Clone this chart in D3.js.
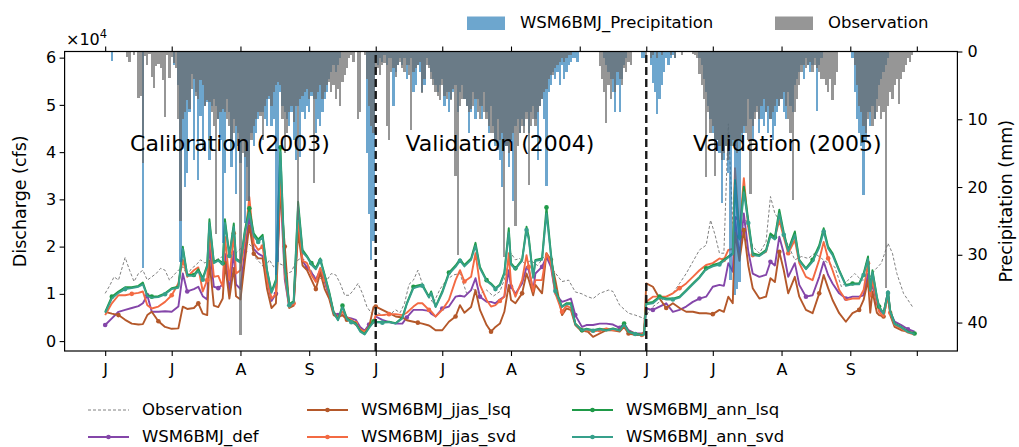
<!DOCTYPE html>
<html>
<head>
<meta charset="utf-8">
<script src="https://cdn.jsdelivr.net/npm/d3@7"></script>
<style>
  body { margin: 0; background: #fff; }
  text { font-family: "DejaVu Sans", sans-serif; fill: #000; }
</style>
</head>
<body>
<div id="chart"></div>
<script>
// ---- data (day index within each Jun-Sep season) ----
const yearOffsets = [0, 122, 244];
const tickDays = [0, 30, 61, 92, 122, 152, 183, 214, 244, 274, 305, 336, 366];
const tickLabels = ['J', 'J', 'A', 'S', 'J', 'J', 'A', 'S', 'J', 'J', 'A', 'S', ''];
const periodLabels = ['Calibration (2003)', 'Validation (2004)', 'Validation (2005)'];
const periodLabelDays = [56.3, 178, 307.6];

const modelDays2003 = [0,3,6,9,12,15,17,19,21,24,27,30,33,35,37,40,42,44,46,47,49,51,53,54,56,58,59,61,63,65,67,69,71,73,75,77,79,81,83,85,87,89,91,93,95,97,99,101,103,105,107,109,111,113,115,117,119,121];
const def2003 = [.34,.48,.62,.66,.7,.74,.8,.97,.62,.62, .63,.62,.73,1.43,1.05,1.1,1.15,.95,.88,2.05, 1.15,1.12,1.2,1.85,1.05,1.9,1.2,1.1,1.9,2.65, 1.95,1.85,1.8,1.3,.85,1.0,3.3,1.3,.72,.78, 2.5,1.7,1.55,1.45,1.3,1.5,1.25,.95,.6,.55, .55,.5,.48,.45,.3,.22,.35,.4];
const jjasLsq2003 = [.62,.58,.55,.45,.37,.35,.36,.55,.62,.42, .3,.26,.27,.73,.68,.7,.8,.58,.55,1.7, .75,.72,.9,1.65,.9,1.55,.95,.88,1.7,2.45, 1.85,1.75,1.75,1.1,.7,.8,3.2,2.0,.7,.75, 2.3,1.6,1.5,1.3,1.1,1.45,1.1,.9,.55,.5, .55,.45,.45,.35,.25,.2,.3,.72];
const jjasSvd2003 = [.55,.8,.97,.97,1.0,1.02,1.05,.76,.69,.73, .83,.97,1.22,1.72,1.36,1.5,1.56,1.05,1.29,2.35, 1.36,1.38,1.15,2.21,1.29,2.28,1.43,1.5,2.14,3.05, 2.07,1.93,2.0,1.3,.9,1.0,3.6,1.4,.72,.8, 2.6,1.7,1.65,1.4,1.25,1.55,1.3,1.0,.6,.5, .62,.5,.45,.38,.25,.2,.3,.4];
const annLsq2003 = [.62,.94,1.05,1.14,1.14,1.17,1.24,.97,.94,.95, 1.01,1.12,1.15,2.0,1.4,1.4,1.52,1.33,1.61,2.58, 1.68,1.72,1.65,2.58,1.82,2.49,1.75,1.68,2.35,2.81, 2.28,2.15,2.25,1.5,1.05,1.3,4.1,1.6,.78,.85, 2.95,1.93,1.8,1.65,1.55,1.75,1.4,1.05,.62,.45, .75,.48,.42,.38,.22,.15,.3,.42];
const annSvd2003 = [.6,.9,1.02,1.1,1.12,1.15,1.2,.95,.92,.93, .99,1.1,1.13,1.95,1.38,1.38,1.48,1.3,1.58,2.5, 1.65,1.7,1.62,2.5,1.8,2.42,1.72,1.66,2.3,2.72, 2.22,2.1,2.2,1.48,1.02,1.25,4.0,1.55,.76,.82, 2.85,1.88,1.78,1.62,1.52,1.7,1.38,1.02,.6,.44, .72,.46,.4,.36,.2,.14,.28,.4];

const modelDays2004 = [0,3,6,9,12,14,17,19,21,24,25,27,30,33,36,38,40,43,45,47,50,52,54,56,58,60,61,63,66,68,69,71,72,75,77,79,81,84,86,88,90,93,95,98,101,104,107,110,112,114,117,120,121];
const def2004 = [.52,.45,.4,.37,.37,.5,.66,.66,.66,.64, .58,.52,.69,.73,.94,.96,.94,1.08,1.33,.94, .83,.83,.8,.88,.94,1.5,1.15,1.0,1.22,1.57, 1.5,1.08,1.43,1.57,1.79,1.57,1.0,.83,.86,.9, .55,.3,.34,.34,.37,.37,.35,.28,.37,.23, .16,.16,.19];
const jjasLsq2004 = [.73,.66,.59,.52,.5,.44,.41,.39,.37,.33, .3,.23,.23,.41,.52,.76,.6,.72,1.08,.66, .34,.2,.3,.37,.62,1.19,.87,.8,1.01,1.43, 1.3,.97,1.19,1.01,1.86,1.72,1.29,.55,.69,.66, .34,.2,.23,.09,.16,.23,.23,.2,.3,.16, .13,.13,.14];
const jjasSvd2004 = [.55,.55,.57,.57,.55,.6,.73,.8,.8,.66, .63,.52,.66,.87,1.29,1.5,1.26,1.36,1.86,1.19, .87,.73,.76,.85,.94,1.86,1.22,.94,1.29,1.82, 1.57,1.05,1.29,1.29,1.86,1.65,1.01,.62,.75,.7, .37,.23,.23,.2,.23,.27,.23,.23,.34,.2, .16,.13,.2];
const annLsq2004 = [.41,.4,.41,.38,.5,.8,1.15,1.18,1.2,.94, 1.05,.73,1.05,1.45,1.6,1.73,1.61,1.75,2.08,1.57, 1.29,1.22,1.12,1.2,1.45,2.39,1.65,1.54,1.72,2.42, 2.21,1.36,1.72,1.75,2.83,1.86,1.08,.73,.8,.8, .37,.23,.26,.23,.26,.23,.27,.23,.37,.2, .16,.13,.14];
const annSvd2004 = [.4,.39,.4,.37,.48,.78,1.12,1.15,1.17,.92, 1.02,.72,1.02,1.42,1.57,1.7,1.58,1.72,2.02,1.54, 1.27,1.2,1.1,1.18,1.42,2.3,1.62,1.52,1.7,2.35, 2.15,1.34,1.7,1.72,2.7,1.82,1.06,.72,.78,.78, .36,.22,.25,.22,.25,.22,.26,.22,.35,.19, .15,.12,.14];

const modelDays2005 = [0,3,6,9,12,15,18,21,24,27,30,33,35,37,39,40,42,44,46,48,51,54,56,58,60,62,64,67,69,72,75,78,80,82,84,87,90,93,96,98,100,101,102,104,105,107,109,110,112,115,118,121];
const def2005 = [.69,.66,.73,.8,.62,.66,.73,.83,.9,.94, 1.15,1.19,1.17,1.65,1.47,2.6,1.8,2.7,1.9,1.43, 1.36,1.4,1.68,1.6,2.21,1.86,1.36,1.65,1.19,.94, .97,1.36,1.68,1.4,1.22,1.01,.9,.94,.94,.97, 1.43,.97,1.2,.8,.66,.59,1.05,.62,.41,.34, .25,.2];
const jjasLsq2005 = [1.22,1.15,.9,.7,.8,.7,.62,.62,.59,.59, .57,.66,.62,.94,.8,2.3,1.7,2.35,1.6,1.12, .9,.94,1.33,1.25,1.89,1.5,1.01,1.36,.94,.66, .59,1.01,1.4,1.12,.87,.59,.41,.59,.66,.87, 1.29,.6,1.05,.6,.55,.52,.97,.55,.3,.23, .2,.16];
const jjasSvd2005 = [.83,.94,.94,.94,1.01,1.12,1.22,1.36,1.5,1.61, 1.65,1.75,1.72,1.93,1.95,3.66,2.28,3.45,2.4,1.82, 1.82,1.89,2.25,2.2,2.56,2.2,1.86,2.14,1.65,1.36, 1.29,1.72,2.1,1.75,1.5,1.08,.87,.9,.9,1.08, 1.65,.94,1.3,.83,.62,.52,.97,.6,.34,.27, .18,.14];
const annLsq2005 = [.8,.83,.94,.9,.9,.94,1.08,1.22,1.36,1.54, 1.61,1.65,1.72,1.79,1.86,3.41,2.21,3.27,2.56,1.86, 1.82,1.93,2.28,2.2,2.78,2.3,1.93,2.32,1.72,1.54, 1.72,2.03,2.39,2.0,1.86,1.5,1.19,1.22,1.22,1.43, 1.79,1.08,1.5,.94,.73,.59,1.05,.65,.37,.3, .2,.16];
const annSvd2005 = [.78,.8,.92,.88,.88,.92,1.06,1.2,1.34,1.52, 1.58,1.62,1.7,1.77,1.84,3.3,2.15,3.15,2.5,1.82, 1.8,1.9,2.22,2.15,2.7,2.25,1.9,2.25,1.7,1.52, 1.68,1.98,2.32,1.96,1.82,1.48,1.17,1.2,1.2,1.4, 1.74,1.06,1.46,.92,.72,.58,1.02,.63,.36,.29, .19,.15];

const obsDays2003 = [0,2,4,6,9,11,13,15,17,19,21,23,25,27,29,31,33,35,37,39,41,43,45,47,50,53,56,59,62,64,66,68,70,72,74,76,78,80,82,84,86,88,90,92,94,96,98,100,102,104,106,108,110,112,114,116,118,120,121];
const obs2003 = [1.01,1.17,1.36,1.29,1.77,1.5,1.26,1.43,1.5,1.29, 1.36,1.43,1.54,1.5,1.29,1.4,1.5,1.57,1.4,1.54, 1.61,1.72,1.65,1.75,1.72,1.79,1.82,1.86,2.0,2.1, 2.0,1.75,1.65,1.54,1.72,1.57,1.65,1.61,1.43,1.47, 1.68,1.75,1.72,1.57,1.4,1.29,1.36,1.29,1.43,1.4, 1.22,.97,.97,1.08,1.22,1.01,.73,.59,.55];
const obsDays2004 = [0,3,6,9,11,13,15,17,19,21,23,26,29,32,35,38,41,44,47,50,53,56,58,61,63,65,67,70,73,77,80,84,87,90,93,95,98,101,105,107,110,114,117,121];
const obs2004 = [.62,.55,.55,.66,.6,.8,1.2,1.29,1.5,1.22, 1.01,.8,1.1,1.3,1.4,1.43,1.01,1.1,1.0,1.08, .95,1.05,1.3,1.86,1.72,1.75,1.65,1.7,1.6,1.86, 1.5,1.26,1.29,1.04,1.0,.95,.9,1.01,1.08,1.05, .76,.59,.55,.48];
const obsDays2005 = [0,3,6,9,12,15,18,21,24,27,29,31,33,35,37,39,41,43,45,48,51,54,56,58,60,62,64,67,70,73,76,79,82,85,88,91,94,97,100,103,106,109,111,113,116,119,120];
const obs2005 = [.55,.73,.83,.94,1.01,1.22,1.43,1.68,1.93,2.03, 2.56,2.25,1.86,1.86,4.6,2.5,2.2,2.3,2.56,2.0, 1.86,2.1,3.06,2.7,2.56,2.2,2.03,1.72,1.79,1.75, 1.86,1.75,1.65,1.57,1.15,1.29,1.43,1.29,1.3,1.5, 1.65,2.07,1.86,1.43,1.01,.8,.73];

// daily precipitation (mm), one value per day of each season
const precipObs2003 = [0,0,0,0,0,0,0,0,0,0, 0.8,1.5,0,0.5,0,6.9,6.5,16.5,0.6,2, 0.4,3.7,5.4,2.2,1.8,2.4,4.2,9.6,0.5,3.9, 0.8,1.7,2.5,10,25,10,9,7.1,8.5,5.5, 4,6.5,7,4.2,5,8,7.1,7.5,9,11, 27,10,9,8.5,9,10,11,13,12,11, 14,41.8,15,15.5,22,22,13,11,10,9, 9.5,13.1,8,7,6.5,8,6,5,4.5,5, 10,15,12,9,8,10.4,8,24.8,7,6.5, 6,5.5,7,6,19.4,7,6,5,7,6, 5,4.5,6,5,7,5.5,8,4.5,3.5,2.5, 1,0.5,1.5,0,10,9,0,0.5,4,8, 11,12];
const precipModel2003 = [0,0,0,1.4,0,0,0,0,0,0, 0,0,0,0,0,0,0,32,0,0, 0,0,0,0,0,0,0,0,0,0, 0,2,0,5,31,14,20,17.9,9,3.3, 16,6,19,9.5,14.5,8,7.5,16,8,7, 8,10,13,28.3,18,7,9,17,10,21, 12,16.5,13,25.3,17,22,12,14,12,10, 9,9,10,11,7,11,10,33,31,6, 8,9,10,11,9,13,16,8,15.5,9, 10,8,9,6.5,7,12,10,11,9,7, 6,4,3,2,3,2,1,0,0,0, 0,0,0,0,0,0,0,0,15,24, 30.8,28];
const precipObs2004 = [3,2.5,3.5,2,1.7,11,13,3,2.5,3.7, 2,1.5,2.5,3,2,3.5,11.6,3,2.5,2, 1.5,6.1,4,2,2.5,4,5,6,6.5,7.1, 5,6.5,7,6,7.1,5.5,18.4,30,8,7, 7,8,9,8.5,8,7,9,10,8,9, 10,11,12,12,13,14.5,13,12,30.3,14, 15,13,12,25.8,14,12,11,12,10,19.7, 11,10,11,9,8,7,6,5.5,4,3.5, 3.5,2.5,2,1.5,1,1.5,1,0.5,0.5,0, 0,0,0,0,0,0,0,0,0,0, 0,2.2,4,6,10.6,5,7,4,6,3, 4,5,2.5,3,1.5,2,0,0,0,0, 0,0];
const precipModel2004 = [1,2,1,1.5,0.5,2,1,1,8.1,3, 2,1,2,1,4,2,1,6,5,2, 3,6,5,1,2,3,4,5,6,5, 4,8,6,9,7,6,5,9,6,5, 7,8,12,9,6,10,7,8,10,6, 9,12,8,11,14,10,16,20,13,14, 17,13,22,11,10,12,10,11,9,12, 9,8,10,16,8,7,10,19.9,6,5, 3,4,3,5,2,4,3,2,1.5,1, 1,1.5,0,0,0,0,0,0,0,0, 0,0,0,1,2,3,4,6,9,5, 9,4,2,1,0,0,0,0,0,0, 1,1];
const precipObs2005 = [0.5,0,1,0.5,0,1,0,0.5,0,0, 0,0.5,0,1,0,0,0.5,0,0,0, 0,0.3,0.5,1,3.3,5,7,18.5,9,12, 11,18.4,13,14,16,15,14,16,14,13, 14,15,13,12,11,12,13,21,11,10, 9,10,8,7,9,8,10,9,8,7, 8,7,6,8,10,12,21.9,9,7,5, 3,2,2.5,2,1.5,3,2,2.5,3,4, 4,5,6,4,7.2,5,3,0,0,0, 0,0,0,0,2,5,8,9,11,12, 10,9,11,10,9,8,10,9,34.9,8, 6,7,5,4,7.8,4,3,2,1,1.5, 0.5,0];
const precipModel2005 = [0,0,2,4.7,6,9.2,7,5,3,1, 2,1,0.5,1,0,0,0,0,0,0, 0,0,0,0,1,2,4,6,8,10, 12,14,13,15,22.4,16,14,18,33.7,14, 36,35,34,13,12,11,7,10,13,9, 8,12,10,11,9,12,10,13.1,11,9, 8,7,9,10,6,8,9,5,4,3, 2,4,1,2,3,2,1,8.8,2,1, 0,0,0,0,0,0,0,0,0,0, 0,0,0,1,6,10,12,14,21.2,13, 9,11,8,10,7,5,4,3,2,1, 0,0,0,0,0,0,0,0,0,0, 0,0];

// ---- helpers ----
function joinYears(dayLists, valueLists) {
  const out = [];
  dayLists.forEach((ds, k) => ds.forEach((d, i) => out.push([d + yearOffsets[k], valueLists[k][i]])));
  return out;
}
const modelDays = [modelDays2003, modelDays2004, modelDays2005];

const obsSeries = joinYears([obsDays2003, obsDays2004, obsDays2005], [obs2003, obs2004, obs2005]);
const models = [
  {name: 'WSM6BMJ_def', color: '#8446a9', mk: 0, data: joinYears(modelDays, [def2003, def2004, def2005])},
  {name: 'WSM6BMJ_jjas_lsq', color: '#b4582a', mk: 2, data: joinYears(modelDays, [jjasLsq2003, jjasLsq2004, jjasLsq2005])},
  {name: 'WSM6BMJ_jjas_svd', color: '#f36a43', mk: 4, data: joinYears(modelDays, [jjasSvd2003, jjasSvd2004, jjasSvd2005])},
  {name: 'WSM6BMJ_ann_lsq', color: '#1f9a48', mk: 1, data: joinYears(modelDays, [annLsq2003, annLsq2004, annLsq2005])},
  {name: 'WSM6BMJ_ann_svd', color: '#36a08b', mk: 3, data: joinYears(modelDays, [annSvd2003, annSvd2004, annSvd2005])}
];
const precipObs = [].concat(precipObs2003, precipObs2004, precipObs2005);
const precipModel = [].concat(precipModel2003, precipModel2004, precipModel2005);

// ---- layout ----
const W = 1019, H = 447;
const L = 64.6, R = 957.4, T = 51.5, B = 351;

const svg = d3.select('#chart').append('svg')
  .attr('width', W).attr('height', H);

const x = d3.scaleLinear().domain([-18.3, 384.3]).range([L, R]);
const y = d3.scaleLinear().domain([-0.21, 6.13]).range([B, T]);
const yP = d3.scaleLinear().domain([0, 44.2]).range([T, B]);

svg.append('clipPath').attr('id', 'plot')
  .append('rect').attr('x', L).attr('y', T).attr('width', R - L).attr('height', B - T);
const plot = svg.append('g').attr('clip-path', 'url(#plot)');

const line = d3.line().x(d => x(d[0])).y(d => y(d[1]));

// observation discharge
plot.append('path')
  .attr('d', line(obsSeries))
  .attr('fill', 'none')
  .attr('stroke', '#808080')
  .attr('stroke-width', 1)
  .attr('stroke-dasharray', '3,2');

// model discharge
models.forEach(m => {
  plot.append('path')
    .attr('d', line(m.data))
    .attr('fill', 'none')
    .attr('stroke', m.color)
    .attr('stroke-width', 1.9)
    .attr('stroke-linejoin', 'round');
  plot.selectAll(null)
    .data(m.data.filter((d, i) => i % 7 === m.mk))
    .enter().append('circle')
    .attr('cx', d => x(d[0]))
    .attr('cy', d => y(d[1]))
    .attr('r', 2.3)
    .attr('fill', m.color);
});

// precipitation bars hanging from the top
const barW = (x(1) - x(0));
plot.selectAll('rect.pm')
  .data(precipModel)
  .enter().append('rect')
  .attr('class', 'pm')
  .attr('x', (d, i) => x(i) - barW / 2)
  .attr('y', yP(0))
  .attr('width', barW)
  .attr('height', d => yP(d) - yP(0))
  .attr('fill', '#1f77b4')
  .attr('fill-opacity', 0.65)
  .attr('shape-rendering', 'crispEdges');

plot.selectAll('rect.po')
  .data(precipObs)
  .enter().append('rect')
  .attr('class', 'po')
  .attr('x', (d, i) => x(i) - barW / 2)
  .attr('y', yP(0))
  .attr('width', barW)
  .attr('height', d => yP(d) - yP(0))
  .attr('fill', '#696969')
  .attr('fill-opacity', 0.7)
  .attr('shape-rendering', 'crispEdges');

// season separators
[122, 244].forEach(d => {
  svg.append('line')
    .attr('x1', x(d)).attr('x2', x(d))
    .attr('y1', B).attr('y2', T)
    .attr('stroke', '#1a1a1a')
    .attr('stroke-width', 2.4)
    .attr('stroke-dasharray', '8,4');
});

// frame
svg.append('rect')
  .attr('x', L).attr('y', T).attr('width', R - L).attr('height', B - T)
  .attr('fill', 'none').attr('stroke', '#000').attr('stroke-width', 1.2);

// axes
const fs = '16px';
svg.append('g')
  .attr('transform', `translate(0,${B})`)
  .call(d3.axisBottom(x).tickValues(tickDays).tickFormat((d, i) => tickLabels[i]).tickSize(5).tickPadding(8));
svg.append('g')
  .attr('transform', `translate(0,${T})`)
  .call(d3.axisTop(x).tickValues(tickDays).tickFormat('').tickSize(5));
svg.append('g')
  .attr('transform', `translate(${L},0)`)
  .call(d3.axisLeft(y).tickValues([0, 1, 2, 3, 4, 5, 6]).tickFormat(d3.format('d')).tickSize(5).tickPadding(3.5));
svg.append('g')
  .attr('transform', `translate(${R},0)`)
  .call(d3.axisRight(yP).tickValues([0, 10, 20, 30, 40]).tickFormat(d3.format('d')).tickSize(5).tickPadding(5));

svg.selectAll('.domain').remove();
svg.selectAll('.tick line').attr('stroke', '#000').attr('stroke-width', 1.1);
svg.selectAll('.tick text').style('font-size', fs).style('font-family', '"DejaVu Sans", sans-serif').attr('fill', '#000');

// axis titles
svg.append('text')
  .attr('transform', `translate(21,${(T + B) / 2}) rotate(-90)`)
  .attr('text-anchor', 'middle').attr('dominant-baseline', 'middle')
  .style('font-size', '17.5px')
  .text('Discharge (cfs)');
svg.append('text')
  .attr('transform', `translate(1007,${(T + B) / 2}) rotate(-90)`)
  .attr('text-anchor', 'middle').attr('dominant-baseline', 'middle')
  .style('font-size', '17.5px')
  .text('Precipitation (mm)');

// offset text x10^4
const off = svg.append('text').attr('x', 66).attr('y', 45).style('font-size', '16px');
off.append('tspan').text('×10');
off.append('tspan').attr('dy', -7).style('font-size', '11.5px').text('4');

// season annotations
periodLabels.forEach((t, i) => {
  svg.append('text')
    .attr('x', x(periodLabelDays[i]))
    .attr('y', y(4.15))
    .attr('text-anchor', 'middle').attr('dominant-baseline', 'middle')
    .style('font-size', '22px')
    .text(t);
});

// top legend (precipitation)
const topLegend = [
  {label: 'WSM6BMJ_Precipitation', color: '#1f77b4', op: 0.65, x: 467},
  {label: 'Observation', color: '#696969', op: 0.7, x: 775}
];
topLegend.forEach(d => {
  svg.append('rect').attr('x', d.x).attr('y', 16.5).attr('width', 38).attr('height', 13.5)
    .attr('fill', d.color).attr('fill-opacity', d.op);
  svg.append('text').attr('x', d.x + 53).attr('y', 23).attr('dominant-baseline', 'middle')
    .style('font-size', '16.5px').text(d.label);
});

// bottom legend (discharge)
const legendItems = [{name: 'Observation', color: '#808080', dash: true}].concat(models);
const colX = [88, 307, 572];
const rowY = [410, 437];
legendItems.forEach((d, i) => {
  const cx = colX[Math.floor(i / 2)], cy = rowY[i % 2];
  svg.append('line')
    .attr('x1', cx).attr('x2', cx + 41).attr('y1', cy).attr('y2', cy)
    .attr('stroke', d.color)
    .attr('stroke-width', d.dash ? 1 : 1.9)
    .attr('stroke-dasharray', d.dash ? '3,2' : null);
  if (!d.dash) {
    svg.append('circle').attr('cx', cx + 20.5).attr('cy', cy).attr('r', 2.3).attr('fill', d.color);
  }
  svg.append('text').attr('x', cx + 54).attr('y', cy).attr('dominant-baseline', 'middle')
    .style('font-size', '16.5px').text(d.name);
});
</script>
</body>
</html>
